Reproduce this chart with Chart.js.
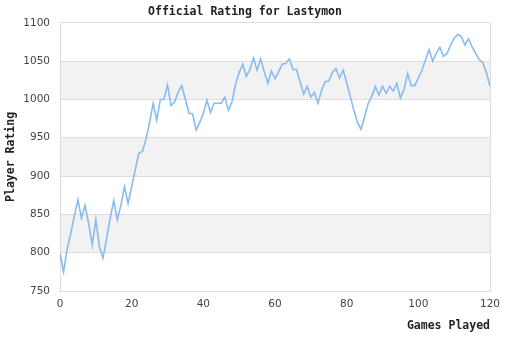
<!DOCTYPE html>
<html>
<head>
<meta charset="utf-8">
<script src="https://cdn.jsdelivr.net/npm/chart.js@4/dist/chart.umd.min.js"></script>
<style>
  html, body { margin: 0; padding: 0; background: #fff; }
  #wrap { width: 510px; height: 340px; }
</style>
</head>
<body>
<div id="wrap"><canvas id="ratingChart" width="510" height="340"></canvas></div>
<script>
// Rating after each game played
const ratings = [
    799, 775, 805, 825, 848, 869, 845, 862, 838, 810,
    843, 808, 793, 818, 845, 868, 843, 862, 886, 864,
    886, 908, 930, 932, 948, 970, 995, 973, 1000, 1000,
    1019, 992, 997, 1010, 1018, 1000, 982, 981, 960, 970,
    982, 999, 983, 995, 995, 995, 1003, 986, 997, 1020,
    1035, 1046, 1030, 1039, 1054, 1038, 1053, 1036, 1021, 1037,
    1027, 1036, 1046, 1047, 1053, 1039, 1039, 1023, 1007, 1017,
    1003, 1009, 995, 1012, 1023, 1024, 1035, 1040, 1028, 1038,
    1022, 1004, 986, 970, 961, 977, 995, 1004, 1017, 1006,
    1017, 1008, 1017, 1011, 1021, 1002, 1013, 1034, 1018, 1018,
    1028, 1038, 1051, 1065, 1050, 1060, 1068, 1056, 1060, 1071,
    1080, 1085, 1082, 1071, 1079, 1069, 1060, 1052, 1048, 1035,
    1017
];
const games = ratings.map((_, i) => i);

const xTicks = [0, 20, 40, 60, 80, 100, 120];
const yTicks = [750, 800, 850, 900, 950, 1000, 1050, 1100];

// Bandas grises alternas detrás de la rejilla
const bandsPlugin = {
    id: 'bands',
    beforeDraw: (chart) => {
        const ctx = chart.ctx;
        const area = chart.chartArea;
        const y = chart.scales.y;
        ctx.save();
        ctx.fillStyle = '#f2f2f2';
        for (let i = 0; i < yTicks.length - 1; i++) {
            if (i % 2 === 1) {
                const top = y.getPixelForValue(yTicks[i + 1]);
                const bottom = y.getPixelForValue(yTicks[i]);
                ctx.fillRect(area.left, top, area.right - area.left, bottom - top);
            }
        }
        ctx.restore();
    }
};

const monoBold = { family: 'DejaVu Sans Mono', size: 11.5, weight: 'bold' };
const tickFont = { family: 'DejaVu Sans', size: 10.5 };

const ctx = document.getElementById('ratingChart').getContext('2d');
new Chart(ctx, {
    type: 'line',
    data: {
        datasets: [{
            label: 'Rating',
            data: games.map((g, i) => ({ x: g, y: ratings[i] })),
            borderColor: '#88bbef',
            borderWidth: 1.6,
            pointRadius: 0,
            tension: 0,
            fill: false
        }]
    },
    options: {
        responsive: false,
        animation: false,
        layout: { padding: { left: 0, right: 20, top: 0, bottom: 0 } },
        plugins: {
            legend: { display: false },
            tooltip: { enabled: false },
            title: {
                display: true,
                text: 'Official Rating for Lastymon',
                color: '#222',
                font: monoBold,
                padding: { top: 5, bottom: 4 }
            }
        },
        scales: {
            x: {
                type: 'linear',
                min: 0,
                max: 120,
                afterBuildTicks: (scale) => { scale.ticks = xTicks.map(v => ({ value: v })); },
                afterFit: (scale) => { scale.height = 49; },
                grid: {
                    drawTicks: false,
                    color: (c) => (c.tick && (c.tick.value === 0 || c.tick.value === 120)) ? '#dddddd' : 'rgba(0,0,0,0)'
                },
                border: { display: true, color: '#dddddd' },
                ticks: { color: '#444', font: tickFont, padding: 7, maxRotation: 0, callback: (v) => String(v) },
                title: {
                    display: true,
                    text: 'Games Played',
                    align: 'end',
                    color: '#222',
                    font: monoBold,
                    padding: { top: 0, bottom: 7 }
                }
            },
            y: {
                min: 750,
                max: 1100,
                afterBuildTicks: (scale) => { scale.ticks = yTicks.map(v => ({ value: v })); },
                afterFit: (scale) => { scale.width = 60; },
                grid: { drawTicks: false, color: '#dddddd' },
                border: { display: true, color: '#dddddd' },
                ticks: { color: '#444', font: tickFont, padding: 10, callback: (v) => String(v) },
                title: {
                    display: true,
                    text: 'Player Rating',
                    color: '#222',
                    font: monoBold,
                    padding: { top: 4, bottom: 0 }
                }
            }
        }
    },
    plugins: [bandsPlugin]
});
</script>
</body>
</html>
